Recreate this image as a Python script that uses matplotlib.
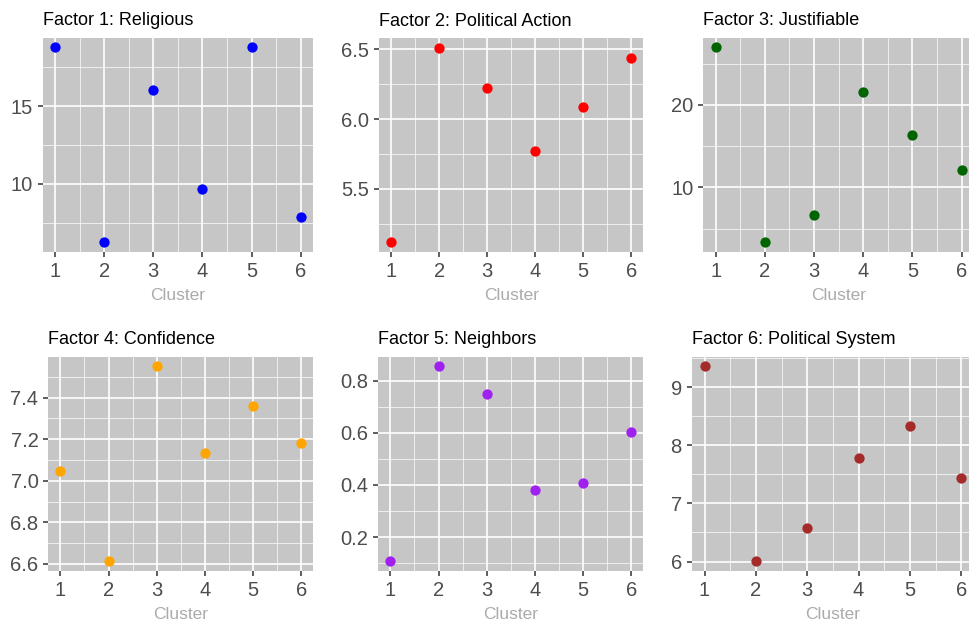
import matplotlib
matplotlib.use("Agg")
import matplotlib.pyplot as plt
from matplotlib.ticker import MultipleLocator, FormatStrFormatter

plt.rcParams['font.family'] = ['Liberation Sans', 'DejaVu Sans']

W, H = 969, 623

clusters = [1, 2, 3, 4, 5, 6]
titles = ["Factor 1: Religious", "Factor 2: Political Action", "Factor 3: Justifiable",
          "Factor 4: Confidence", "Factor 5: Neighbors", "Factor 6: Political System"]
religious = [18.78, 6.27, 16.06, 9.66, 18.78, 7.89]
political_action = [5.12, 6.51, 6.22, 5.77, 6.09, 6.44]
justifiable = [26.95, 3.37, 6.62, 21.54, 16.29, 12.07]
confidence = [7.045, 6.613, 7.55, 7.134, 7.358, 7.182]
neighbors = [0.107, 0.854, 0.75, 0.38, 0.407, 0.604]
political_system = [9.357, 6.005, 6.585, 7.78, 8.33, 7.44]
colors = ['#0000FF', '#FF0000', '#006400', '#FFA500', '#A020F0', '#A52A2A']
y_steps = [5, 0.5, 10, 0.2, 0.2, 1]
y_formats = ['%d', '%.1f', '%d', '%.1f', '%.1f', '%d']

series = [religious, political_action, justifiable, confidence, neighbors, political_system]

# panel boxes in pixels: left, top, right, bottom
boxes = [(42.7, 37.7, 313, 251.7), (379.3, 38.3, 643.3, 251.7), (703.3, 37.7, 974, 251.7),
         (48.3, 356.7, 313.3, 571), (378.3, 356.7, 643.3, 571), (691.7, 356.7, 974, 571)]


def expand(vals, frac=0.05):
    lo, hi = min(vals), max(vals)
    pad = (hi - lo) * frac
    return lo - pad, hi + pad


fig = plt.figure(figsize=(W / 100, H / 100), dpi=100)
fig.patch.set_facecolor('white')

for i, vals in enumerate(series):
    l, t, r, b = boxes[i]
    ax = fig.add_axes([l / W, 1 - b / H, (r - l) / W, (b - t) / H])
    ax.set_facecolor('#C6C6C6')
    ax.scatter(clusters, vals, s=55, color=colors[i], zorder=3, linewidths=0)
    ax.set_xlim(*expand(clusters))
    ax.set_ylim(*expand(vals))
    ax.xaxis.set_major_locator(MultipleLocator(1))
    ax.xaxis.set_minor_locator(MultipleLocator(0.5))
    ax.yaxis.set_major_locator(MultipleLocator(y_steps[i]))
    ax.yaxis.set_minor_locator(MultipleLocator(y_steps[i] / 2))
    ax.yaxis.set_major_formatter(FormatStrFormatter(y_formats[i]))
    ax.grid(which='major', color='white', linewidth=1.2)
    ax.grid(which='minor', color='white', linewidth=0.5)
    ax.set_axisbelow(True)
    for sp in ax.spines.values():
        sp.set_visible(False)
    ax.tick_params(which='major', length=3.6, width=1.1, color='#333333',
                   labelcolor='#4D4D4D', labelsize=14.5, pad=3.5)
    ax.tick_params(which='minor', length=0)
    ax.set_xlabel("Cluster", color='#ABABAB', fontsize=12.5, labelpad=5)
    ax.set_title(titles[i], loc='left', fontsize=13, color='black', pad=9)

fig.savefig("out.png", dpi=100)
